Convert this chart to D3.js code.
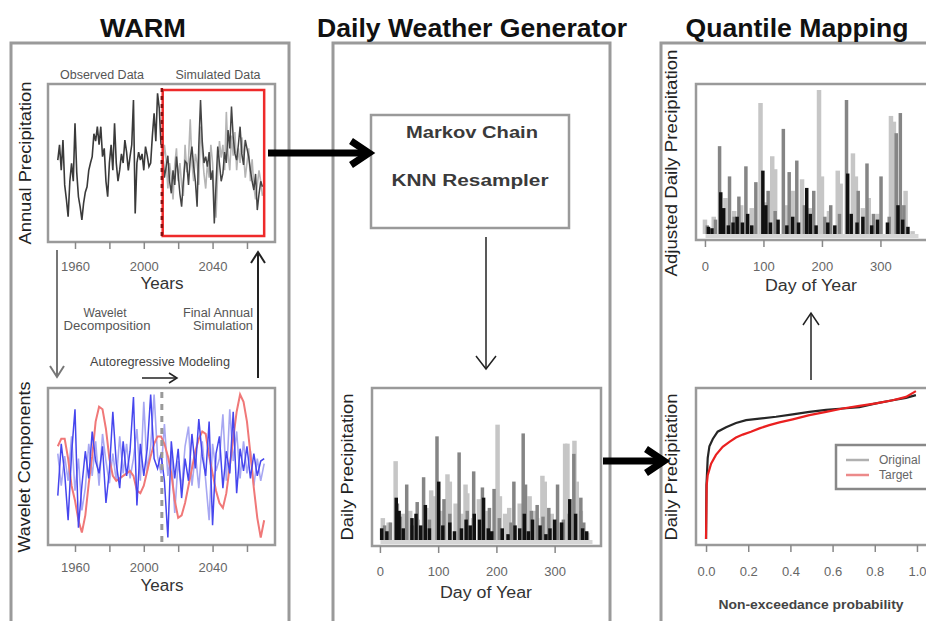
<!DOCTYPE html>
<html>
<head>
<meta charset="utf-8">
<script src="https://cdn.jsdelivr.net/npm/d3@7.9.0/dist/d3.min.js"></script>
<style>
  body { margin: 0; background: #fff; }
  svg { display: block; font-family: "Liberation Sans", Arial, sans-serif; }
</style>
</head>
<body>
<svg id="fig" width="926" height="621"></svg>
<script>
// ---- data ----
// annual precipitation (mm), observed 1950-2010
const obsYears = d3.range(1950, 2011);
const obsPrecip = [1016,1100,960,1126,880,800,706,900,998,900,
  1218,950,815,760,688,780,840,870,960,1000,
  1035,1160,1120,1199,1100,1199,1035,1080,900,815,
  1000,1100,960,1218,1000,900,962,1050,1000,1126,
  1060,960,1035,1100,1345,724,1000,1060,1016,1050,
  960,1090,1040,980,1000,1150,1272,1120,1382,1300,
  1100];
// two simulated traces, 2011-2069
const simYears = d3.range(2011, 2070);
const simPrecipA = [1060,920,980,1040,900,834,960,880,1035,940,
  830,761,900,1010,998,880,1020,1090,980,900,
  761,1100,1345,1120,1000,1035,980,1060,907,960,
  669,880,1090,1000,900,943,1060,1000,1180,1080,
  1310,1140,1050,1016,1100,1199,1050,990,1126,1080,
  1035,960,900,852,940,742,830,900,870];
const simPrecipB = [980,1100,1020,860,1000,920,800,990,1080,900,
  1000,880,820,1100,950,1020,1240,1000,900,1050,
  1000,880,1200,1060,940,860,1000,920,1100,1000,
  800,700,950,1120,1030,1100,960,1280,1050,960,
  1150,1040,1170,960,1080,1000,1140,1050,920,1000,
  1080,900,1020,870,800,880,960,900,820];
const simStart = 2011, simEnd = 2070, splitYear = 2010.5;

// wavelet components, every second year 1950-2070
const wavYears = d3.range(1950, 2071, 2);
const wavLow = [0.8,1.1,1.1,0.3,-0.8,-1.4,-2.2,-2.7,-2.0,-0.7,
  0.4,1.8,2.4,2.3,1.5,0.3,-0.4,-0.6,-0.5,-0.4,
  -0.3,-0.2,-0.4,-1.0,-1.1,-0.8,-0.2,0.4,0.9,1.2,
  1.2,0.9,0.4,-0.3,-1.4,-2.1,-2.0,-1.5,-0.8,-0.1,
  0.6,1.1,1.4,1.3,0.4,-0.3,-1.0,-1.5,-1.7,-1.1,
  0.0,1.1,2.2,2.9,2.6,1.8,0.5,-0.9,-2.1,-2.9,
  -2.2];
const wavHigh1 = [-1.2,0.9,-0.3,-2.2,0.5,2.3,-2.5,-0.8,0.6,-0.5,
  1.4,0.2,-0.3,0.8,-1.5,-0.2,2.2,0.1,-0.9,1.0,
  -0.4,0.6,2.8,-1.6,0.9,-0.4,0.7,2.9,0.3,-0.1,
  0.5,-0.6,-2.9,1.0,-0.5,0.7,-1.3,0.3,-0.6,1.3,
  -0.1,1.9,0.4,-0.4,1.8,-2.4,0.5,1.2,-0.9,0.6,
  -0.3,2.2,-1.1,0.7,-0.2,0.8,-0.5,0.5,-0.4,0.2,
  0.3];
const wavHigh2 = [0.5,-0.8,0.4,-0.6,1.2,-1.0,0.3,-1.8,-0.9,0.9,
  -0.4,1.0,-0.8,1.3,0.2,-0.7,0.5,-0.6,1.2,-0.3,
  0.9,-0.5,0.3,1.5,-0.6,2.6,-0.2,0.8,2.9,0.4,
  -0.3,1.7,-0.4,0.6,-1.9,0.2,-0.9,0.8,1.6,-0.8,
  0.5,-0.9,1.0,-0.6,-2.2,0.9,-0.2,0.3,2.1,-0.6,
  2.3,0.2,1.4,-0.5,1.0,-0.3,0.6,-0.8,0.3,-0.6,
  0.1];

// generated daily precipitation, [day of year, mm] peaks of three overlaid years
const genLight = [[5,15],[15,12],[27,54],[40,18],[52,20],[65,14],[80,22],[88,34],[92,30],[105,20],
  [116,45],[120,40],[130,25],[140,18],[147,38],[150,32],[160,15],[170,28],[185,20],[202,79],
  [206,30],[215,18],[222,22],[240,25],[257,30],[265,20],[270,15],[279,44],[283,40],[295,18],
  [310,12],[318,66],[322,66],[334,68],[338,40],[345,20],[356,5]];
const genMid = [[8,10],[18,12],[30,25],[35,16],[46,38],[55,10],[64,26],[75,43],[85,14],[98,71],
  [110,28],[120,18],[136,60],[150,20],[161,47],[176,36],[188,22],[196,35],[205,15],[225,12],
  [230,40],[246,73],[250,38],[260,20],[270,24],[280,16],[290,22],[305,38],[315,14],[325,18],
  [333,59],[345,29],[350,12]];
const genDark = [[3,8],[12,6],[28,29],[33,20],[40,8],[55,15],[62,18],[70,10],[78,24],[85,8],
  [101,40],[108,10],[120,12],[128,6],[140,8],[148,14],[155,10],[162,18],[171,14],[178,29],
  [186,8],[192,6],[210,8],[220,4],[232,10],[240,8],[248,18],[255,6],[262,14],[275,10],
  [285,4],[292,8],[300,14],[312,12],[326,28],[336,18],[348,8],[355,6]];

// quantile-mapped daily precipitation
const adjLight = [[0,10],[15,12],[35,25],[50,16],[62,20],[80,18],[95,91],[105,22],[115,54],[120,45],
  [140,20],[150,30],[166,38],[180,18],[195,100],[200,40],[212,16],[227,44],[232,35],[253,56],
  [258,40],[270,18],[280,25],[295,14],[318,82],[323,78],[343,30],[355,2]];
const adjMid = [[4,6],[18,10],[25,61],[42,40],[50,12],[58,26],[70,47],[87,36],[108,30],[120,16],
  [134,73],[144,43],[157,51],[170,20],[186,30],[205,12],[215,20],[230,14],[242,93],[262,30],
  [277,49],[288,14],[301,40],[315,12],[327,70],[334,84],[340,20]];
const adjDark = [[6,5],[12,4],[27,29],[32,18],[40,6],[48,8],[55,12],[64,8],[73,14],[80,6],
  [99,44],[104,20],[112,8],[125,10],[140,6],[150,12],[160,8],[174,32],[180,14],[190,6],
  [210,8],[222,6],[244,42],[250,14],[260,8],[270,12],[285,6],[295,10],[312,8],[330,20],
  [338,10],[347,5]];

// quantile curves, [non-exceedance probability, precipitation]
const qOriginal = [[0,0],[0.002,37],[0.008,56],[0.016,64],[0.032,69],[0.055,74],[0.095,77],[0.142,80],
  [0.19,82],[0.253,83],[0.332,84.3],[0.411,86],[0.49,87.7],[0.569,89],[0.648,90],[0.727,91],
  [0.806,93.5],[0.885,95.7],[0.948,97.3],[0.995,99.2]];
const qTarget = [[0,0],[0.003,37],[0.008,44],[0.024,52],[0.047,58],[0.079,63.6],[0.111,67],[0.142,70],
  [0.174,72],[0.213,74],[0.253,76.3],[0.3,78.5],[0.348,80.4],[0.411,82.5],[0.49,85.4],[0.569,87.7],
  [0.648,90],[0.727,91.8],[0.806,93.5],[0.885,95.7],[0.948,98],[0.995,102]];

const yearTicks = [1960, 1980, 2000, 2020, 2040, 2060];
const dayTicks = [0, 100, 200, 300];
const probTicks = [0, 0.2, 0.4, 0.6, 0.8, 1.0];

// ---- drawing ----
const svg = d3.select('#fig');
svg.append('rect').attr('width', 926).attr('height', 621).attr('fill', '#fff');
const GRAY = '#9a9a9a';

const panels = [
  { title: 'WARM', x: 11, w: 278, cx: 143, len: 86 },
  { title: 'Daily Weather Generator', x: 333, w: 277, cx: 472, len: 310 },
  { title: 'Quantile Mapping', x: 661, w: 290, cx: 797, len: 223 }
];
panels.forEach(p => {
  svg.append('rect').attr('x', p.x).attr('y', 43).attr('width', p.w).attr('height', 620)
    .attr('fill', 'none').attr('stroke', GRAY).attr('stroke-width', 3);
  svg.append('text').attr('x', p.cx).attr('y', 37).attr('text-anchor', 'middle')
    .attr('font-size', 25).attr('font-weight', 'bold').attr('fill', '#111')
    .attr('textLength', p.len).attr('lengthAdjust', 'spacingAndGlyphs').text(p.title);
});

function frame(x0, y0, x1, y1) {
  svg.append('rect').attr('x', x0).attr('y', y0).attr('width', x1 - x0).attr('height', y1 - y0)
    .attr('fill', 'none').attr('stroke', GRAY).attr('stroke-width', 2.5);
}

function xAxis(scale, y, ticks, fmt, pad) {
  const g = svg.append('g').attr('transform', `translate(0,${y})`)
    .call(d3.axisBottom(scale).tickValues(ticks).tickFormat(fmt).tickSize(7).tickPadding(pad));
  g.attr('font-family', null).attr('font-size', null);
  g.select('.domain').remove();
  g.selectAll('line').attr('stroke', '#888').attr('stroke-width', 1.5);
  g.selectAll('text').attr('fill', '#666').attr('font-size', 13);
}

function text(x, y, str, size, fill, len, weight) {
  const t = svg.append('text').attr('x', x).attr('y', y).attr('text-anchor', 'middle')
    .attr('font-size', size).attr('fill', fill).text(str);
  if (len) t.attr('textLength', len).attr('lengthAdjust', 'spacingAndGlyphs');
  if (weight) t.attr('font-weight', weight);
  return t;
}

function yLabel(x, cy, str, len) {
  svg.append('text').attr('transform', `translate(${x},${cy}) rotate(-90)`)
    .attr('text-anchor', 'middle').attr('dominant-baseline', 'central')
    .attr('font-size', 17).attr('fill', '#222')
    .attr('textLength', len).attr('lengthAdjust', 'spacingAndGlyphs').text(str);
}

function arrow(pts, head, color, width) {
  const line = d3.line();
  svg.append('path').attr('d', line(pts)).attr('fill', 'none')
    .attr('stroke', color).attr('stroke-width', width);
  svg.append('path').attr('d', line(head)).attr('fill', 'none')
    .attr('stroke', color).attr('stroke-width', width).attr('stroke-linejoin', 'miter');
}

function spikes(series, color, x, y, w) {
  svg.append('g').selectAll('line').data(series).join('line')
    .attr('x1', d => x(d[0])).attr('x2', d => x(d[0]))
    .attr('y1', y(0)).attr('y2', d => y(d[1]))
    .attr('stroke', color).attr('stroke-width', w);
}

const yearFmt = d => (d - 1960) % 40 === 0 ? d : '';
const x = d3.scaleLinear().domain([1944.3, 2076.3]).range([48, 275]);

// -- WARM: annual precipitation --
const yAnn = d3.scaleLinear().domain([600, 1400]).range([236, 90]);
const annLine = d3.line().x(d => x(d[0])).y(d => yAnn(d[1]));
svg.append('path').attr('d', annLine(d3.zip(simYears, simPrecipB)))
  .attr('fill', 'none').attr('stroke', '#b5b5b5').attr('stroke-width', 1.6);
svg.append('path').attr('d', annLine(d3.zip(simYears, simPrecipA)))
  .attr('fill', 'none').attr('stroke', '#444').attr('stroke-width', 1.5);
svg.append('path').attr('d', annLine(d3.zip(obsYears, obsPrecip)))
  .attr('fill', 'none').attr('stroke', '#3a3a3a').attr('stroke-width', 1.6);
svg.append('rect').attr('x', x(simStart)).attr('y', yAnn(1400))
  .attr('width', x(simEnd) - x(simStart)).attr('height', yAnn(600) - yAnn(1400))
  .attr('fill', 'none').attr('stroke', '#ee2a2a').attr('stroke-width', 2.5);
svg.append('line').attr('x1', x(splitYear)).attr('x2', x(splitYear)).attr('y1', yAnn(1400) - 2).attr('y2', yAnn(600))
  .attr('stroke', '#8b1010').attr('stroke-width', 2.5).attr('stroke-dasharray', '4,4');
frame(48, 84, 275, 242);
xAxis(x, 242, yearTicks, yearFmt, 13);
text(102, 79, 'Observed Data', 12.5, '#555', 84);
text(218, 79, 'Simulated Data', 12.5, '#555', 85);
text(162, 289, 'Years', 16, '#333', 43);
yLabel(25, 163, 'Annual Precipitation', 163);

// -- WARM: wavelet components --
const yWav = d3.scaleLinear().domain([-3, 3]).range([540, 392]);
const wavLine = d3.line().x(d => x(d[0])).y(d => yWav(d[1]));
svg.append('path').attr('d', wavLine(d3.zip(wavYears, wavHigh2)))
  .attr('fill', 'none').attr('stroke', '#a7a7f2').attr('stroke-width', 1.6);
svg.append('path').attr('d', wavLine(d3.zip(wavYears, wavLow)))
  .attr('fill', 'none').attr('stroke', '#f07878').attr('stroke-width', 2);
svg.append('path').attr('d', wavLine(d3.zip(wavYears, wavHigh1)))
  .attr('fill', 'none').attr('stroke', '#4646ee').attr('stroke-width', 1.5);
svg.append('line').attr('x1', x(splitYear)).attr('x2', x(splitYear)).attr('y1', 392).attr('y2', 543)
  .attr('stroke', '#999').attr('stroke-width', 3).attr('stroke-dasharray', '6,6');
frame(48, 388, 275, 545);
xAxis(x, 545, yearTicks, yearFmt, 11);
text(162, 591, 'Years', 16, '#333', 43);
yLabel(24, 467, 'Wavelet Components', 171);

// -- WARM: annotations --
text(105, 317, 'Wavelet', 12.5, '#555', 43);
text(107, 330, 'Decomposition', 12.5, '#555', 87);
text(218, 317, 'Final Annual', 12.5, '#555', 70);
text(223, 330, 'Simulation', 12.5, '#555', 60);
text(160, 366, 'Autoregressive Modeling', 12.5, '#444', 140);
arrow([[57, 250], [57, 376]], [[50, 366], [57, 377], [64, 366]], '#777', 2);
arrow([[258, 378], [258, 253]], [[251, 263], [258, 252], [265, 263]], '#222', 2);
arrow([[142, 378], [176, 378]], [[169, 373], [177, 378], [169, 383]], '#222', 1.5);

// -- Daily Weather Generator --
svg.append('rect').attr('x', 371).attr('y', 115).attr('width', 198).attr('height', 113)
  .attr('fill', '#fff').attr('stroke', GRAY).attr('stroke-width', 2.5);
text(472, 138, 'Markov Chain', 16, '#3a3a3a', 132, 'bold');
text(470, 186, 'KNN Resampler', 16, '#3a3a3a', 157, 'bold');
arrow([[486, 237], [486, 368]], [[476, 356], [486, 369], [496, 356]], '#222', 1.5);

const xDay = d3.scaleLinear().domain([-13.6, 379.6]).range([372, 601]);
const yGen = d3.scaleLinear().domain([0, 100]).range([540, 394]);
svg.append('line').attr('x1', xDay(1)).attr('x2', xDay(365)).attr('y1', yGen(0) + 2).attr('y2', yGen(0) + 2)
  .attr('stroke', '#d6d6d6').attr('stroke-width', 4);
spikes(genLight, '#c6c6c6', xDay, yGen, 4.5);
spikes(genMid, '#858585', xDay, yGen, 3.5);
spikes(genDark, '#111', xDay, yGen, 3.5);
frame(372, 388, 601, 546);
xAxis(xDay, 546, dayTicks, d3.format('d'), 14);
text(486, 598, 'Day of Year', 16, '#333', 92);
yLabel(347, 467, 'Daily Precipitation', 147);

// -- Quantile Mapping: adjusted series --
const xDay2 = d3.scaleLinear().domain([-13.6, 379.6]).range([697, 927]);
const yAdj = d3.scaleLinear().domain([0, 100]).range([234, 90]);
svg.append('line').attr('x1', xDay2(1)).attr('x2', xDay2(365)).attr('y1', yAdj(0) + 2).attr('y2', yAdj(0) + 2)
  .attr('stroke', '#d6d6d6').attr('stroke-width', 4);
spikes(adjLight, '#c6c6c6', xDay2, yAdj, 4.5);
spikes(adjMid, '#858585', xDay2, yAdj, 3.5);
spikes(adjDark, '#111', xDay2, yAdj, 3.5);
frame(696, 84, 940, 240);
xAxis(xDay2, 240, dayTicks, d3.format('d'), 15);
text(811, 291, 'Day of Year', 16, '#333', 92);
yLabel(671, 163, 'Adjusted Daily Precipitation', 227);
arrow([[811, 380], [811, 314]], [[803, 325], [811, 313], [819, 325]], '#222', 1.5);

// -- Quantile Mapping: quantile curves --
const xP = d3.scaleLinear().domain([-0.04, 1.04]).range([697.6, 925.4]);
const yQ = d3.scaleLinear().domain([0, 100]).range([539, 394]);
const qLine = d3.line().x(d => xP(d[0])).y(d => yQ(d[1]));
svg.append('path').attr('d', qLine(qOriginal)).attr('fill', 'none')
  .attr('stroke', '#262626').attr('stroke-width', 2.2);
svg.append('path').attr('d', qLine(qTarget)).attr('fill', 'none')
  .attr('stroke', '#ea2020').attr('stroke-width', 2.2);
frame(696, 388, 940, 545);
xAxis(xP, 545, probTicks, d3.format('.1f'), 15);
text(811, 609, 'Non-exceedance probability', 13, '#444', 185, 'bold');
yLabel(671, 467, 'Daily Precipitation', 147);

// legend
svg.append('rect').attr('x', 836).attr('y', 445).attr('width', 110).attr('height', 44)
  .attr('fill', '#fff').attr('stroke', '#888').attr('stroke-width', 2.5);
[['Original', '#b0b0b0', 460], ['Target', '#ec8a8a', 475]].forEach(([lab, col, ly]) => {
  svg.append('line').attr('x1', 846).attr('x2', 869).attr('y1', ly).attr('y2', ly)
    .attr('stroke', col).attr('stroke-width', 2.5);
  svg.append('text').attr('x', 879).attr('y', ly + 4).attr('font-size', 12).attr('fill', '#666').text(lab);
});

// thick connecting arrows
arrow([[268, 153], [366, 153]], [[351, 141], [369, 153], [351, 165]], '#000', 7);
arrow([[603, 461], [660, 461]], [[646, 449], [664, 461], [646, 473]], '#000', 7);
</script>
</body>
</html>
